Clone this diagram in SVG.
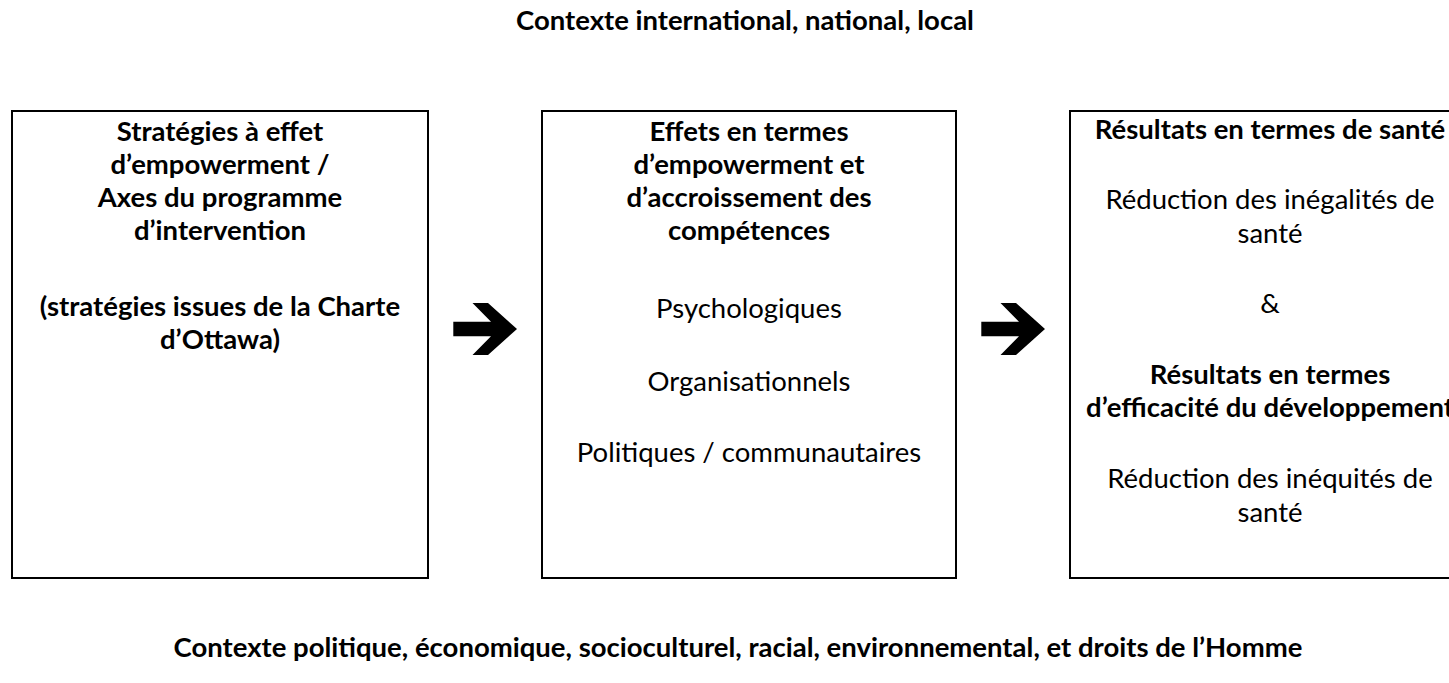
<svg xmlns="http://www.w3.org/2000/svg" width="1449" height="683" viewBox="0 0 1449 683">
<style>
  text { font-family: Lato, "Liberation Sans", sans-serif; font-size: 27.5px; fill: #000; text-anchor: middle; }
  .b { font-weight: bold; }
  .box { fill: #fff; stroke: #000; stroke-width: 2; }
  .arrow { fill: #000; }
</style>
<defs>
  <polygon id="arr" points="453.3,321.7 491,321.7 472.5,303 488,303 517,329 488,355 472.5,355 491,336.3 453.3,336.3"/>
</defs>
<rect width="1449" height="683" fill="#fff"/>
<g id="heading-top"><text class="b" x="745" y="30">Contexte international, national, local</text></g>

<g id="node-strategies">
  <rect class="box" x="12" y="111" width="416" height="467"/>
  <text class="b" x="220" y="141">Stratégies à effet</text>
  <text class="b" x="220" y="174">d’empowerment /</text>
  <text class="b" x="220" y="207">Axes du programme</text>
  <text class="b" x="220" y="240">d’intervention</text>
  <text class="b" x="220" y="316">(stratégies issues de la Charte</text>
  <text class="b" x="220" y="349">d’Ottawa)</text>
</g>

<g id="node-effets">
  <rect class="box" x="542" y="111" width="414" height="467"/>
  <text class="b" x="749" y="141">Effets en termes</text>
  <text class="b" x="749" y="174">d’empowerment et</text>
  <text class="b" x="749" y="207">d’accroissement des</text>
  <text class="b" x="749" y="240">compétences</text>
  <text x="749" y="318">Psychologiques</text>
  <text x="749" y="391">Organisationnels</text>
  <text x="749" y="462">Politiques / communautaires</text>
</g>

<g id="node-resultats">
  <rect class="box" x="1070" y="111" width="416" height="467"/>
  <text class="b" x="1270" y="139">Résultats en termes de santé</text>
  <text x="1270" y="209">Réduction des inégalités de</text>
  <text x="1270" y="243">santé</text>
  <text x="1270" y="313">&amp;</text>
  <text class="b" x="1270" y="384">Résultats en termes</text>
  <text class="b" x="1270" y="417">d’efficacité du développement</text>
  <text x="1270" y="488">Réduction des inéquités de</text>
  <text x="1270" y="522">santé</text>
</g>

<g id="connectors">
  <use href="#arr" class="arrow"/>
  <use href="#arr" class="arrow" transform="translate(528,0)"/>
</g>

<g id="heading-bottom"><text class="b" x="738" y="657">Contexte politique, économique, socioculturel, racial, environnemental, et droits de l’Homme</text></g>
</svg>
